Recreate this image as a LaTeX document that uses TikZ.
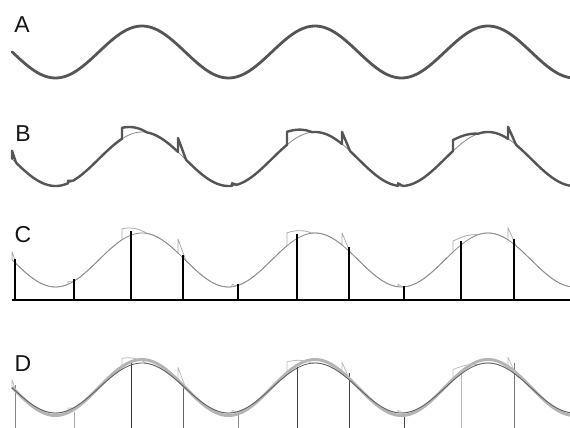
\documentclass[tikz,border=0pt]{standalone}
\usepackage{fontspec}
\setmainfont{Liberation Sans}
\definecolor{waveA}{HTML}{555555}
\definecolor{thinG}{HTML}{8C8C8C}
\definecolor{glitchG}{HTML}{AAAAAA}
\definecolor{glitchD}{HTML}{BDBDBD}
\definecolor{bandG}{HTML}{B4B4B4}
\definecolor{darkD}{HTML}{5A5A5A}
\newcommand\drawrecon[3]{%
  \foreach \bb/\ee/\jj/\ww in {12/68/8/4,68/122/2.5/5,122/178/11/25,178/232/14/8,232/287/2.5/5,287/342/13/25,342/398/12/8,398/453/2.5/5,453/508/11/25,508/570/12/8}{%
    \draw[#3] (\bb,{wave(\bb,#1,#2)}) -- plot[domain=\bb:\ee,samples=60] (\x,{wave(\x,#1,#2)-\jj*max(0,1-(\x-\bb)/\ww)});
  }}
\begin{document}
\begin{tikzpicture}[x=1pt,y=-1pt,
  declare function={wave(\x,\c,\a)=\c-\a*cos((\x-142)*2.080925);},
  lab/.style={font=\fontsize{23}{23}\selectfont,text=black!92,inner sep=0pt},
  thickwave/.style={draw=waveA,line width=2.8pt,line cap=round,line join=round},
  reconB/.style={draw=waveA,line width=2.4pt,line cap=round,line join=round},
  thinwave/.style={draw=thinG,line width=0.8pt},
  glitchline/.style={draw=glitchG,line width=0.8pt,line join=round},
  glitchlineD/.style={draw=glitchD,line width=0.8pt,line join=round},
  stemC/.style={draw=black,line width=2.5pt},
  stemD/.style={line width=0.9pt}]
\useasboundingbox (0,0) rectangle (570,428);
\clip (0,0) rectangle (570,428);
% Panel A
\node[lab] (labA) at (22,25) {A};
\draw[thickwave] plot[domain=12:570,samples=200] (\x,{wave(\x,52,26)});
% Panel B
\node[lab] (labB) at (23,134) {B};
\draw[thinwave,draw=glitchG!80!black] plot[domain=12:570,samples=200] (\x,{wave(\x,159,27)});
\drawrecon{159}{27}{reconB}
% Panel C
\node[lab] (labC) at (23,235) {C};
\drawrecon{260}{27}{glitchline}
\draw[thinwave] plot[domain=12:570,samples=200] (\x,{wave(\x,260,27)});
\draw[stemC] (12,300) -- (570,300);
\foreach \sx/\st in {15/259,74/279,131/231,183/255,238/284,297/234,349/247,404/286,461/241,514/239}{
  \draw[stemC] (\sx,300) -- (\sx,\st);
}
% Panel D
\node[lab] (labD) at (23,364) {D};
\foreach \sx/\st/\sc in {15/385/888888,74/412/AAAAAA,131/362/333333,183/387/666666,238/413/8C8C8C,297/367/444444,349/373/444444,404/416/444444,461/373/BBBBBB,514/363/777777}{
  \definecolor{stemcol}{HTML}{\sc}
  \draw[stemD,draw=stemcol] (\sx,428) -- (\sx,\st);
}
\draw[draw=bandG,line width=3pt] plot[domain=12:570,samples=200] (\x,{wave(\x,387.5,28)});
\drawrecon{388}{25}{glitchlineD}
\draw[draw=darkD,line width=0.8pt] plot[domain=12:570,samples=200] (\x,{wave(\x,388,25)});
\end{tikzpicture}
\end{document}
